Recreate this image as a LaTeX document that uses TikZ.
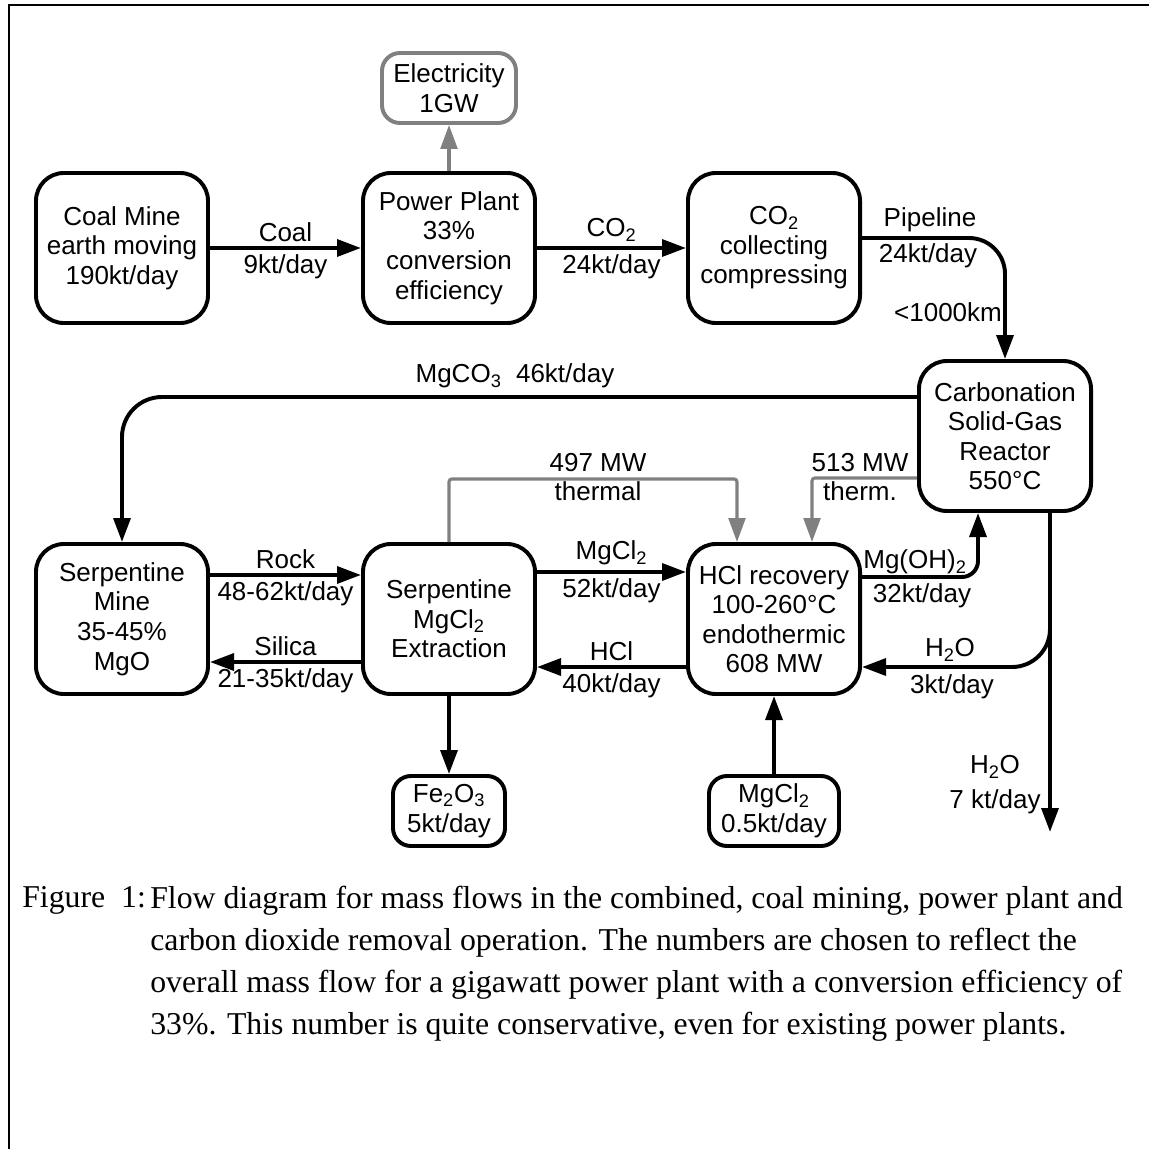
\documentclass[tikz,border=0pt]{standalone}
\usepackage{fontspec}
\setmainfont{Liberation Sans}
\newfontfamily\capfont{Liberation Serif}
\usetikzlibrary{arrows.meta}
\definecolor{heatgray}{RGB}{128,128,128}

\begin{document}
\begin{tikzpicture}[x=0.025cm, y=-0.025cm,
        every node/.style={font=\fontsize{18.5}{21}\selectfont, align=center},
        unit/.style={draw, line width=2.8pt, rounded corners=0.7cm, minimum width=4.3cm, minimum height=3.75cm, inner sep=0pt},
        product/.style={draw, line width=2.8pt, rounded corners=0.45cm, minimum height=1.75cm, inner sep=0pt},
        flow/.style={line width=2.8pt, -{Triangle[length=0.6cm,width=0.42cm]}},
        heat/.style={heatgray, line width=2.2pt, -{Triangle[length=0.6cm,width=0.42cm]}},
        capstyle/.style={font=\capfont\fontsize{22.6}{29.9}\selectfont, inner sep=0pt, align=left}]
        \useasboundingbox (0,0) rectangle (1149,1149);
        % Frame
        \draw[line width=1.6pt] (9,1149) -- (9,5) -- (1149,5);

        % Units
        \node[unit] (coal) at (122,248) {Coal Mine\\earth moving\\190kt/day};
        \node[unit] (power) at (449,248) {Power Plant\\33\%\\conversion\\efficiency};
        \node[unit] (collect) at (774,248) {CO\textsubscript{2}\\collecting\\compressing};
        \node[unit, draw=heatgray, minimum width=3.35cm, minimum height=1.75cm, rounded corners=0.45cm] (elec) at (449,88) {Electricity\\1GW};
        \node[unit] (carb) at (1005,436) {Carbonation\\Solid-Gas\\Reactor\\550°C};
        \node[unit] (smine) at (122,619) {Serpentine\\Mine\\35-45\%\\MgO};
        \node[unit] (extr) at (449,619) {Serpentine\\MgCl\textsubscript{2}\\Extraction};
        \node[unit] (hclrec) at (774,619) {HCl recovery\\100-260°C\\endothermic\\608 MW};
        \node[product, minimum width=2.8cm] (fe) at (449,811) {Fe\textsubscript{2}O\textsubscript{3}\\5kt/day};
        \node[product, minimum width=3.25cm] (mgcl) at (774,811) {MgCl\textsubscript{2}\\0.5kt/day};

        % Coal to CO2
        \draw[flow] (coal) -- (power) node[midway, above] {Coal} node[midway, below] {9kt/day};
        \draw[heat] (power) -- (elec);
        \draw[flow] (power) -- (collect) node[midway, above] {CO\textsubscript{2}} node[midway, below] {24kt/day};

        % Pipeline
        \draw[flow, rounded corners=0.9cm] ([yshift=0.25cm]collect.east) -| (carb.north);
        \node (pipe) at (930,220) {Pipeline};
        \node (pipeflow) at (928,256) {24kt/day};
        \node (dist) at (948,312) {<1000km};

        % MgCO3 back to the mine
        \draw[flow, rounded corners=1cm] ([yshift=0.975cm]carb.west) -| (smine.north);
        \node (mgco) at (515,376) {MgCO\textsubscript{3}\ \ 46kt/day};

        % Rock, silica, MgCl2, HCl
        \draw[flow] ([yshift=1.1cm]smine.east) -- ([yshift=1.1cm]extr.west) node[midway, above] {Rock} node[midway, below] {48-62kt/day};
        \draw[flow] ([yshift=-1.075cm]extr.west) -- ([yshift=-1.075cm]smine.east) node[midway, above] {Silica} node[midway, below] {21-35kt/day};
        \draw[flow] ([yshift=1.175cm]extr.east) -- ([yshift=1.175cm]hclrec.west) node[midway, above] {MgCl\textsubscript{2}} node[midway, below] {52kt/day};
        \draw[flow] ([yshift=-1.2cm]hclrec.west) -- ([yshift=-1.2cm]extr.east) node[midway, above] {HCl} node[midway, below] {40kt/day};

        % Heat
        \draw[heat, rounded corners=2pt] (extr.north) |- ([xshift=-0.925cm, yshift=1.575cm]hclrec.north) -- ([xshift=-0.925cm]hclrec.north);
        \node (heatA) at (598,477) {497 MW\\thermal};
        \draw[heat, rounded corners=2pt] ([yshift=-1.05cm]carb.west) -| ([xshift=0.95cm]hclrec.north);
        \node (heatB) at (860,477) {513 MW\\therm.};

        % Mg(OH)2
        \draw[flow, rounded corners=0.4cm] ([yshift=1.05cm]hclrec.east) -| ([xshift=-0.675cm]carb.south);
        \node (mgoh) at (915,562) {Mg(OH)\textsubscript{2}};
        \node (mgohflow) at (922,596) {32kt/day};

        % Water
        \coordinate (split) at (1050,628);
        \coordinate (drain) at (1050,832);
        \draw[flow] ([xshift=1.125cm]carb.south) -- (drain);
        \draw[flow, rounded corners=0.95cm] (split) |- ([yshift=-1.2cm]hclrec.east);
        \node (wat) at (950,650) {H\textsubscript{2}O};
        \node (watflow) at (952,687) {3kt/day};
        \node (waste) at (995,767) {H\textsubscript{2}O};
        \node (wasteflow) at (995,802) {7 kt/day};

        % By-products
        \draw[flow] (extr) -- (fe);
        \draw[flow] (mgcl) -- (hclrec);

        % Caption
        \node[capstyle, anchor=north west] (figlbl) at (22,886) {Figure\ \ 1:};
        \node[capstyle, anchor=north west] (figtxt) at (150,886) {Flow diagram for mass flows in the combined, coal mining, power plant and\\carbon dioxide removal operation. The numbers are chosen to reflect the\\overall mass flow for a gigawatt power plant with a conversion efficiency of\\33\%. This number is quite conservative, even for existing power plants.};
    \end{tikzpicture}
\end{document}
